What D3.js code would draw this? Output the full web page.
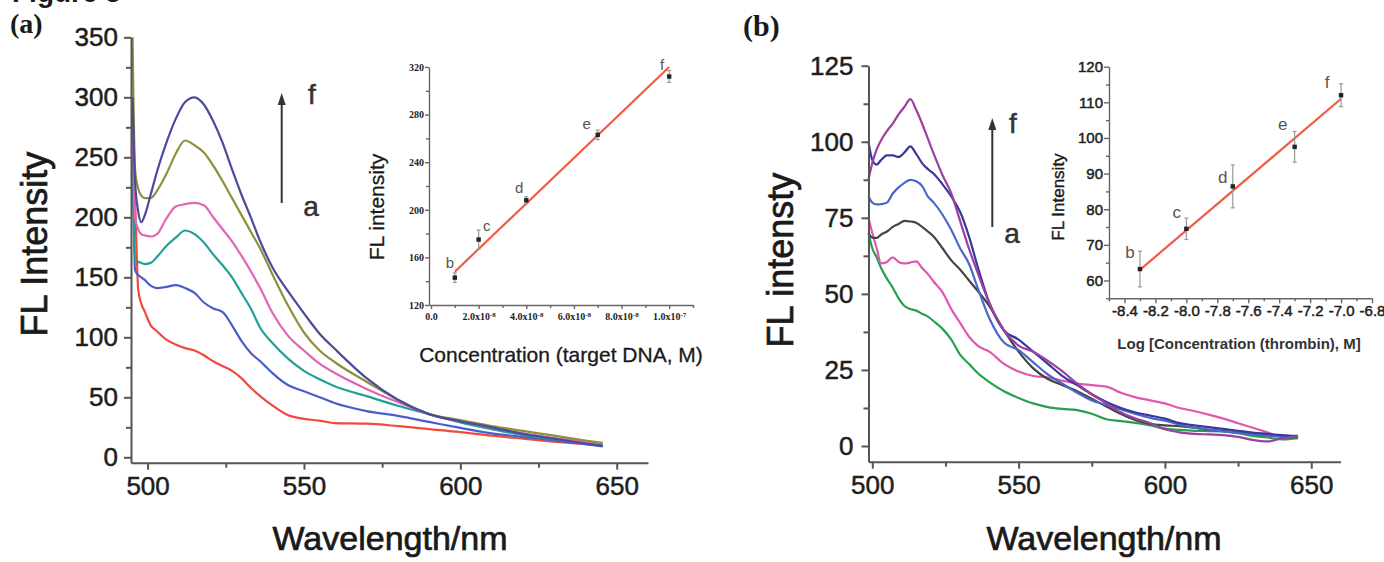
<!DOCTYPE html>
<html>
<head>
<meta charset="utf-8">
<script src="https://cdn.jsdelivr.net/npm/d3@7"></script>
<style>
body { margin: 0; background: #fff; }
</style>
</head>
<body>
<script>
// ---- panel (a): spectra vs target DNA ----
var wlA = [495.2, 496, 497, 498, 499, 501, 503, 506, 509, 512, 515, 518, 521, 524, 527, 530,
           533, 536, 540, 545, 550, 555, 560, 570, 580, 590, 600, 610, 620, 630, 640, 645.5]
var aA = [260, 214, 140, 128, 122, 110, 105, 98, 94, 91, 89, 85, 80, 76, 72, 66,
          58, 51, 43, 35, 32, 30.5, 28.5, 28, 26, 23.5, 21, 18, 15.5, 13, 11, 10]
var bA = [265, 156, 152, 150, 148, 143, 141, 142, 143.5, 141, 137, 129, 124, 121, 110, 97,
          87, 80, 70, 60, 55, 50, 45, 38.5, 34.5, 29.5, 24.5, 20, 17, 14, 11, 9]
var cA = [275, 165, 163, 162, 161, 162, 167, 176, 183, 189, 186, 179, 169, 160, 150, 137,
          124, 108, 95, 82, 72, 65, 59, 51, 43, 36, 29, 23.5, 18.5, 15, 12, 10]
var dA = [285, 200, 190, 186, 185, 184, 186, 199, 209, 211, 212, 210, 200, 190, 180, 168,
          155, 141, 120, 101, 89, 78, 70, 57, 46, 36, 30, 25, 20, 16, 13, 11.5]
var eA = [350, 240, 224, 218, 216, 216, 222, 236, 253, 264, 260, 254, 243, 230, 216, 202,
          188, 174, 152, 126, 104, 89, 79, 63, 48, 36, 31, 26, 22, 18, 14, 12]
var fA = [300, 230, 205, 196, 201, 219, 238, 262, 282, 296, 300, 294, 280, 262, 240, 219,
          200, 180, 158, 138, 120, 103, 90, 66, 48, 36, 30, 25, 19.5, 15.5, 11.5, 9.5]
var colorsA = ['#f04a3c', '#4a5ccc', '#23a096', '#e264b6', '#8f8f3a', '#4b4b9e']

// ---- panel (b): spectra vs thrombin ----
var wlB = [498.7, 500, 501.5, 503, 505, 507, 509, 511, 513, 515, 517, 519, 521, 524, 527, 530,
           533, 536, 540, 545, 550, 555, 560, 565, 570, 575, 580, 585, 590, 595, 600, 605,
           610, 615, 620, 625, 630, 635, 640, 645.5]
var aB = [70, 65, 62, 58.5, 55, 52, 48.5, 46, 45, 44.5, 43.5, 42.5, 41, 38.5, 35, 30,
          27, 24, 21, 18, 15.8, 14, 12.8, 12.2, 11.8, 10.6, 8.8, 8.2, 7.6, 6.8, 5.7, 5.3,
          5, 4.9, 4.8, 4.2, 3.3, 2.8, 2.2, 2.6]
var bB = [75, 70, 65, 60, 60.5, 62, 60.5, 60, 60.3, 60.7, 58.5, 56.5, 54, 50.5, 45, 40.5,
          36, 33, 31, 27, 24.5, 23, 22.5, 21.5, 20.5, 20, 19.5, 17.5, 16, 15, 14, 12.5,
          11.5, 10.3, 9, 7.5, 6, 4.5, 3, 3]
var cB = [70, 68.5, 68.4, 69.5, 70.5, 72, 73, 74, 73.8, 73.4, 72, 70.5, 68.8, 65, 61, 58,
          54.5, 51, 46, 38, 31, 25.5, 22, 20, 18, 15.5, 13, 10.5, 8.5, 7.3, 6.8, 6.5,
          6, 5.3, 4.9, 4.4, 4, 3.5, 3.1, 2.9]
var dB = [82, 80, 79.4, 79.5, 80, 83, 85, 86.5, 87.5, 87, 85.5, 82, 80, 76, 71, 65,
          60, 52, 42, 34, 31.5, 27.5, 23.5, 20.5, 17.5, 15, 13.5, 12, 10.5, 9.2, 8.3, 7,
          6, 5.4, 4.8, 4.3, 3.9, 3.5, 3.2, 3]
var eB = [100, 94, 92.5, 94, 95.5, 95.5, 95, 96.5, 98.5, 96, 93, 91, 89.5, 86, 82, 77,
          69, 59, 47, 38, 35, 31, 27, 23, 20, 17, 14.5, 12.5, 11, 10, 9, 7.5,
          6.8, 6.2, 5.6, 5, 4.4, 4, 3.6, 3.3]
var fB = [87.6, 93, 97.5, 100.5, 103.5, 106, 109, 111.5, 114, 110.5, 106, 101, 96, 89, 83, 74,
          65, 57, 47, 38, 33, 31, 28, 24.5, 20.5, 17, 14, 11, 9, 7.5, 5.5, 4.5,
          4, 3.8, 3.6, 3, 2, 1.5, 2.5, 3.2]
var colorsB = ['#27a04e', '#e056b0', '#444444', '#4a68cc', '#38389c', '#9c3fa0']

// ---- insets: calibration points ----
var pointNames = ['b', 'c', 'd', 'e', 'f']
var concA = [1e-8, 2e-8, 4e-8, 7e-8, 1e-7]
var flA = [143, 175, 208, 263, 312]
var errA = [4, 8, 3, 4, 5]
var fitAx = [1e-8, 1e-7], fitAy = [148, 320]
var xTicksInsetA = [0, 2e-8, 4e-8, 6e-8, 8e-8, 1e-7]
var xLabelsInsetA = ['0.0', '2.0x10^-8', '4.0x10^-8', '6.0x10^-8', '8.0x10^-8', '1.0x10^-7']

var logB = [-8.3, -8.0, -7.7, -7.3, -7.0]
var flB = [63.2, 74.5, 86.4, 97.5, 112]
var errB = [5, 3, 6, 4.3, 3.2]
var fitBx = [-8.3, -7.0], fitBy = [63, 111]

var W = 1384, H = 562
var sans = '"Liberation Sans", Arial, sans-serif'
var serif = '"Liberation Serif", "Times New Roman", serif'

var svg = d3.select('body').append('svg')
  .attr('width', W)
  .attr('height', H)

svg.append('rect').attr('width', W).attr('height', H).attr('fill', '#fff')

// draws a pair of axes (major + minor ticks) for scales x, y
function axes(x, y, o) {
  var x0 = x.range()[0], y0 = y.range()[0]
  var gxm = svg.append('g').attr('transform', 'translate(0,' + y0 + ')')
    .call(d3.axisBottom(x).tickValues(o.xMinor).tickSize(o.minor).tickFormat('').tickSizeOuter(0))
  gxm.select('.domain').remove()
  var gym = svg.append('g').attr('transform', 'translate(' + x0 + ',0)')
    .call(d3.axisLeft(y).tickValues(o.yMinor).tickSize(o.minor).tickFormat('').tickSizeOuter(0))
  gym.select('.domain').remove()

  var gx = svg.append('g').attr('transform', 'translate(0,' + y0 + ')')
    .call(d3.axisBottom(x).tickValues(o.xTicks).tickSize(o.major).tickPadding(o.xPad)
      .tickFormat(o.xFmt).tickSizeOuter(0))
  var gy = svg.append('g').attr('transform', 'translate(' + x0 + ',0)')
    .call(d3.axisLeft(y).tickValues(o.yTicks).tickSize(o.major).tickPadding(o.yPad)
      .tickFormat(o.yFmt).tickSizeOuter(0))

  ;[gxm, gym, gx, gy].forEach(function(g) {
    g.selectAll('line, path').attr('stroke', o.color).attr('stroke-width', o.width)
    g.selectAll('text').attr('fill', '#1e1e1e')
      .attr('stroke', '#1e1e1e').attr('stroke-width', o.sw || 0)
      .attr('font-family', o.font || sans).attr('font-size', o.size)
      .attr('font-weight', o.weight || 'normal')
  })
  return gx
}

function spectra(x, y, wl, series, colors) {
  var line = d3.line()
    .x(function(d) { return x(d[0]) })
    .y(function(d) { return y(d[1]) })
    .curve(d3.curveMonotoneX)
  series.forEach(function(vals, i) {
    svg.append('path')
      .datum(wl.map(function(w, j) { return [w, vals[j]] }))
      .attr('d', line)
      .attr('fill', 'none')
      .attr('stroke', colors[i])
      .attr('stroke-width', 2.2)
      .attr('stroke-linejoin', 'round')
  })
}

function text(str, x, y, size, o) {
  o = o || {}
  var fill = o.fill || '#1a1a1a'
  var t = svg.append('text').text(str)
    .attr('x', x).attr('y', y)
    .attr('font-family', o.font || sans)
    .attr('font-size', size)
    .attr('font-weight', o.weight || 'normal')
    .attr('fill', fill)
    .attr('stroke', fill).attr('stroke-width', o.sw || 0)
    .attr('text-anchor', o.anchor || 'middle')
  if (o.rotate) t.attr('x', 0).attr('y', 0).attr('transform', 'translate(' + x + ',' + y + ') rotate(-90)')
  return t
}

function arrow(x, yTop, yBot) {
  svg.append('line').attr('x1', x).attr('x2', x).attr('y1', yTop + 8).attr('y2', yBot)
    .attr('stroke', '#333').attr('stroke-width', 2)
  svg.append('path').attr('d', 'M' + x + ',' + yTop + 'l-4,12h8z').attr('fill', '#333')
}

// calibration inset: points, error bars, fit line and letters
function calib(x, y, xs, ys, errs, fx, fy, offs, fontSize) {
  svg.append('line')
    .attr('x1', x(fx[0])).attr('y1', y(fy[0]))
    .attr('x2', x(fx[1])).attr('y2', y(fy[1]))
    .attr('stroke', '#f25a42').attr('stroke-width', 2.2)
  xs.forEach(function(v, i) {
    var cx = x(v), top = y(ys[i] + errs[i]), bot = y(ys[i] - errs[i])
    svg.append('line').attr('x1', cx).attr('x2', cx).attr('y1', top).attr('y2', bot)
      .attr('stroke', '#999').attr('stroke-width', 1.2)
    ;[top, bot].forEach(function(yy) {
      svg.append('line').attr('x1', cx - 2).attr('x2', cx + 2).attr('y1', yy).attr('y2', yy)
        .attr('stroke', '#999').attr('stroke-width', 1.2)
    })
    svg.append('rect').attr('x', cx - 2.2).attr('y', y(ys[i]) - 2.2)
      .attr('width', 4.4).attr('height', 4.4).attr('fill', '#222')
    text(pointNames[i], cx + offs[i][0], y(ys[i]) + offs[i][1], fontSize, { fill: '#555' })
  })
}

// ================= panel (a) =================
var xA = d3.scaleLinear().domain([494.7, 660]).range([131, 648])
var yA = d3.scaleLinear().domain([-4.5, 350]).range([462.7, 37.3])
spectra(xA, yA, wlA, [aA, bA, cA, dA, eA, fA], colorsA)
axes(xA, yA, {
  xTicks: [500, 550, 600, 650], xMinor: [525, 575, 625],
  yTicks: d3.range(0, 351, 50), yMinor: d3.range(25, 350, 50),
  major: 7, minor: 5, xPad: 7, yPad: 6, size: 26, sw: 0.5, color: '#555', width: 2,
  xFmt: d3.format('d'), yFmt: d3.format('d')
})
text('FL Intensity', 47, 244, 36, { rotate: true, sw: 0.7 })
text('Wavelength/nm', 390, 550, 34, { sw: 0.7 })
arrow(281.7, 93, 203)
text('f', 312, 104, 28, { fill: '#333', sw: 0.5 })
text('a', 311, 216, 28, { fill: '#333', sw: 0.5 })

// inset (a)
var xIa = d3.scaleLinear().domain([-0.084e-8, 1.1e-7]).range([429, 693])
var yIa = d3.scaleLinear().domain([120, 320]).range([305, 67])
var gIa = axes(xIa, yIa, {
  xTicks: xTicksInsetA, xMinor: d3.range(1, 12, 2).map(function(d) { return d * 1e-8 }),
  yTicks: d3.range(120, 321, 40), yMinor: d3.range(140, 320, 40),
  major: 4, minor: 3, xPad: 4, yPad: 1, size: 10, weight: 'bold', font: serif,
  color: '#666', width: 1.4, xFmt: function(d, i) { return '' }, yFmt: d3.format('d')
})
gIa.selectAll('.tick text').each(function(d, i) {
  var parts = xLabelsInsetA[i].split('^')
  var t = d3.select(this).text(parts[0])
  if (parts[1]) t.append('tspan').attr('dy', '-0.45em').attr('font-size', 7).text(parts[1])
})
calib(xIa, yIa, concA, flA, errA, fitAx, fitAy,
  [[-5, -10], [8, -9], [-7, -7], [-11, -6], [-7, -7]], 15)
text('FL intensity', 384, 207, 21, { rotate: true, sw: 0.3 })
text('Concentration (target DNA, M)', 561, 362, 21, { sw: 0.3 })

// ================= panel (b) =================
var xB = d3.scaleLinear().domain([498.7, 660]).range([868.5, 1340.5])
var yB = d3.scaleLinear().domain([-5.16, 125]).range([461.7, 65.7])
spectra(xB, yB, wlB, [aB, bB, cB, dB, eB, fB], colorsB)
axes(xB, yB, {
  xTicks: [500, 550, 600, 650], xMinor: [525, 575, 625],
  yTicks: d3.range(0, 126, 25), yMinor: d3.range(12.5, 125, 25),
  major: 7, minor: 5, xPad: 7, yPad: 8, size: 26, sw: 0.5, color: '#555', width: 2,
  xFmt: d3.format('d'), yFmt: d3.format('d')
})
text('FL intensty', 793, 260, 36, { rotate: true, sw: 0.7 })
text('Wavelength/nm', 1104, 550, 34, { sw: 0.7 })
arrow(992.3, 118, 227)
text('f', 1013, 133, 28, { fill: '#333', sw: 0.5 })
text('a', 1012, 243, 28, { fill: '#333', sw: 0.5 })

// inset (b)
var xIb = d3.scaleLinear().domain([-8.5, -6.8]).range([1109, 1372])
var yIb = d3.scaleLinear().domain([55, 120]).range([298.3, 66.7])
axes(xIb, yIb, {
  xTicks: d3.range(-8.4, -6.79, 0.2), xMinor: d3.range(-8.5, -6.85, 0.2),
  yTicks: d3.range(60, 121, 10), yMinor: d3.range(55, 120, 10),
  major: 5, minor: 3, xPad: 2, yPad: 1, size: 15, sw: 0.5, color: '#666', width: 1.4,
  xFmt: function(d) { return d3.format('.1f')(d).replace('\u2212', '-') },
  yFmt: d3.format('d')
})
calib(xIb, yIb, logB, flB, errB, fitBx, fitBy,
  [[-10, -11], [-9.5, -11], [-10, -3], [-12, -17], [-14, -7]], 17)
text('FL Intensity', 1064, 197, 17, { rotate: true, sw: 0.4 })
text('Log [Concentration (thrombin), M]', 1239, 349, 15, { weight: 'bold', fill: '#333' })

// panel letters and clipped heading
text('Figure 5', 12, 1.5, 28, { anchor: 'start', weight: 'bold' })
text('(a)', 10, 33, 28, { anchor: 'start', weight: 'bold', font: serif })
text('(b)', 743, 36, 30, { anchor: 'start', weight: 'bold', font: serif })
</script>
</body>
</html>
